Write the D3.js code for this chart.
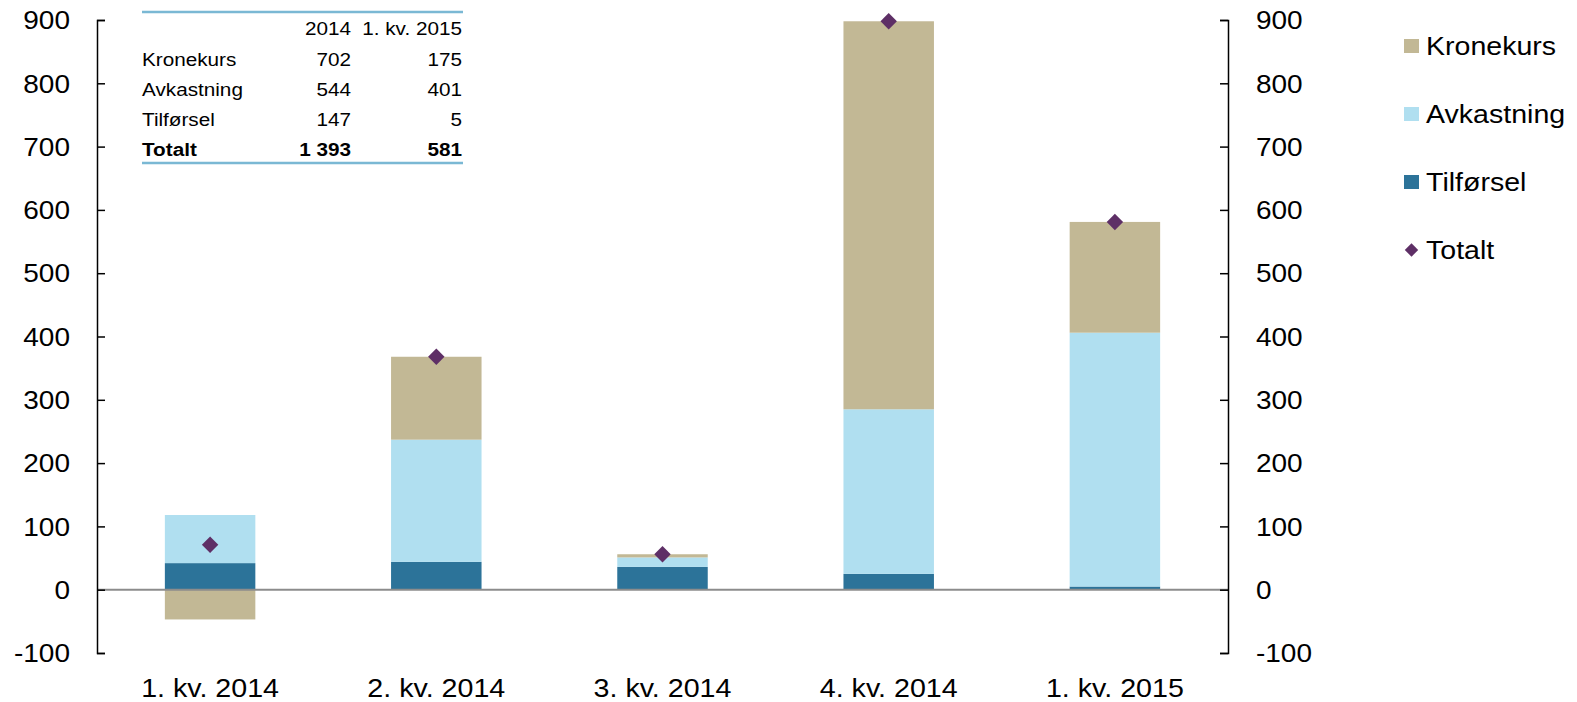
<!DOCTYPE html>
<html>

<head>
    <meta charset="utf-8">
    <title>Kronekurs, avkastning og tilførsel</title>
    <style>
        body {
            margin: 0;
            background: #fff;
        }

        text {
            font-family: Arial, "Liberation Sans", sans-serif;
            fill: #000;
        }
    </style>
    <script src="https://d3js.org/d3.v7.min.js"></script>
</head>

<body>
    <script>
        var quarters = ["1. kv. 2014", "2. kv. 2014", "3. kv. 2014", "4. kv. 2014", "1. kv. 2015"];
        var tilforsel = [42, 44, 36, 25, 5];
        var avkastning = [76, 193, 15, 260, 401];
        var kronekurs = [-47, 131, 5, 613, 175];
        var totalt = [71, 368, 56, 898, 581];
        var yTicks = [-100, 0, 100, 200, 300, 400, 500, 600, 700, 800, 900];

        var tableHead = ["2014", "1. kv. 2015"];
        var tableRows = ["Kronekurs", "Avkastning", "Tilførsel", "Totalt"];
        var table2014 = ["702", "544", "147", "1 393"];
        var table2015 = ["175", "401", "5", "581"];

        var w = 1577, h = 702;
        var sx = 1.12; // the reference text is a bit wide

        var colors = {
            Kronekurs: "#c2b895",
            Avkastning: "#b0dff0",
            Tilførsel: "#2c7399",
            Totalt: "#5e2f66"
        };

        var svg = d3.select("body").append("svg")
            .attr("width", w)
            .attr("height", h);

        var x = d3.scaleBand()
            .domain(quarters)
            .range([97, 1228])
            .paddingInner(0.6)
            .paddingOuter(0.3);

        var y = d3.scaleLinear()
            .domain([-100, 900])
            .range([653, 20]);

        // stacked bars
        var rows = quarters.map(function (q, i) {
            return { q: q, "Tilførsel": tilforsel[i], "Avkastning": avkastning[i], "Kronekurs": kronekurs[i] };
        });
        var keys = ["Tilførsel", "Avkastning", "Kronekurs"];
        var series = d3.stack().keys(keys).offset(d3.stackOffsetDiverging)(rows);

        svg.append("g").selectAll("g")
            .data(series)
            .enter()
            .append("g")
            .attr("fill", function (d) { return colors[d.key]; })
            .selectAll("rect")
            .data(function (d) { return d; })
            .enter()
            .append("rect")
            .attr("x", function (d) { return x(d.data.q); })
            .attr("width", x.bandwidth())
            .attr("y", function (d) { return y(Math.max(d[0], d[1])); })
            .attr("height", function (d) { return Math.abs(y(d[0]) - y(d[1])); });

        // zero line
        svg.append("line")
            .attr("x1", 97).attr("x2", 1228)
            .attr("y1", y(0)).attr("y2", y(0))
            .attr("stroke", "#8c8c8c")
            .attr("stroke-width", 2);

        // totals
        svg.append("g").selectAll("path")
            .data(totalt)
            .enter()
            .append("path")
            .attr("d", d3.symbol().type(d3.symbolSquare).size(135))
            .attr("fill", colors.Totalt)
            .attr("transform", function (d, i) {
                return "translate(" + (x(quarters[i]) + x.bandwidth() / 2) + "," + y(d) + ") rotate(45)";
            });

        // axes
        function styleAxis(g, pad, anchor) {
            g.select(".domain").attr("stroke", "#000").attr("stroke-width", 1.5);
            g.selectAll(".tick line").attr("stroke", "#000").attr("stroke-width", 1.5);
            g.selectAll(".tick text")
                .attr("x", pad / sx)
                .attr("dy", "0.35em")
                .attr("transform", "scale(" + sx + ",1)")
                .style("font-size", "25px")
                .attr("text-anchor", anchor);
        }

        var plain = function (d) { return String(d); };

        var left = svg.append("g")
            .attr("transform", "translate(97,0)")
            .call(d3.axisLeft(y).tickValues(yTicks).tickFormat(plain).tickSize(-8).tickSizeOuter(-8));
        styleAxis(left, -27, "end");

        var right = svg.append("g")
            .attr("transform", "translate(1228,0)")
            .call(d3.axisRight(y).tickValues(yTicks).tickFormat(plain).tickSize(-8).tickSizeOuter(-8));
        styleAxis(right, 28, "start");

        // category labels
        svg.append("g").selectAll("text")
            .data(quarters)
            .enter()
            .append("text")
            .attr("transform", function (d) {
                return "translate(" + (x(d) + x.bandwidth() / 2) + ",697) scale(1.08,1)";
            })
            .attr("text-anchor", "middle")
            .style("font-size", "26.5px")
            .text(function (d) { return d; });

        // legend
        var legendKeys = ["Kronekurs", "Avkastning", "Tilførsel", "Totalt"];
        var legend = svg.append("g").selectAll("g")
            .data(legendKeys)
            .enter()
            .append("g")
            .attr("transform", function (d, i) { return "translate(1404," + (46 + i * 68) + ")"; });

        legend.filter(function (d) { return d !== "Totalt"; })
            .append("rect")
            .attr("x", 0).attr("y", -7)
            .attr("width", 15).attr("height", 14)
            .attr("fill", function (d) { return colors[d]; });

        legend.filter(function (d) { return d === "Totalt"; })
            .append("path")
            .attr("d", d3.symbol().type(d3.symbolSquare).size(90))
            .attr("transform", "translate(7.5,0) rotate(45)")
            .attr("fill", colors.Totalt);

        legend.append("text")
            .attr("transform", "translate(22,9) scale(" + sx + ",1)")
            .style("font-size", "25.5px")
            .text(function (d) { return d; });

        // table in the corner
        var table = svg.append("g");
        table.append("line")
            .attr("x1", 142).attr("x2", 463).attr("y1", 12).attr("y2", 12)
            .attr("stroke", "#7ab8d4").attr("stroke-width", 2.5);
        table.append("line")
            .attr("x1", 142).attr("x2", 463).attr("y1", 163).attr("y2", 163)
            .attr("stroke", "#7ab8d4").attr("stroke-width", 2.5);

        var colRight = [351, 462];
        tableHead.forEach(function (t, j) {
            table.append("text")
                .attr("transform", "translate(" + colRight[j] + ",35) scale(" + sx + ",1)")
                .attr("text-anchor", "end")
                .style("font-size", "18.5px")
                .text(t);
        });

        tableRows.forEach(function (r, i) {
            var yy = 66 + i * 30;
            var bold = r === "Totalt" ? "bold" : "normal";
            var cells = [[r, 142, "start"], [table2014[i], colRight[0], "end"], [table2015[i], colRight[1], "end"]];
            cells.forEach(function (c) {
                table.append("text")
                    .attr("transform", "translate(" + c[1] + "," + yy + ") scale(" + sx + ",1)")
                    .attr("text-anchor", c[2])
                    .style("font-size", "18.5px")
                    .style("font-weight", bold)
                    .text(c[0]);
            });
        });
    </script>
</body>

</html>
